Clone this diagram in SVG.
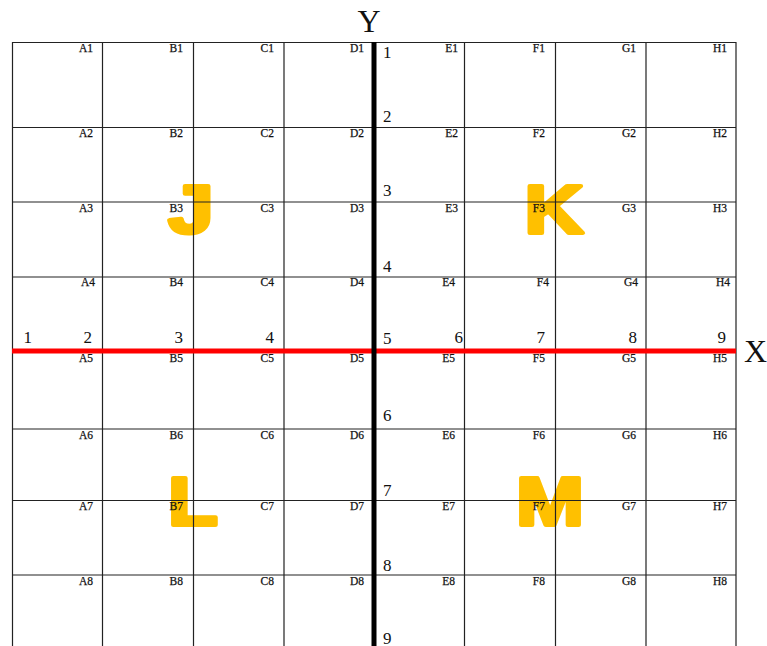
<svg xmlns="http://www.w3.org/2000/svg" width="767" height="646" viewBox="0 0 767 646">
<style>
.big{font-family:"Liberation Sans",Arial,sans-serif;font-weight:bold;font-size:68px;fill:#FFC000;stroke:#FFC000;stroke-width:4;stroke-linejoin:round;text-anchor:middle}
.g{stroke:#222;stroke-width:1.2;fill:none}
.c{font-family:"Liberation Serif","Times New Roman",serif;font-size:11.5px;fill:#111;text-anchor:end;stroke:#111;stroke-width:0.25}
.n{font-family:"Liberation Serif","Times New Roman",serif;font-size:17px;fill:#111}
.e{text-anchor:end}
.ax{font-family:"Liberation Serif","Times New Roman",serif;font-size:32px;fill:#111}
</style>
<rect width="767" height="646" fill="#fff"/>
<g id="letters">
<text class="big" transform="translate(191,233) scale(1.2,1)">J</text>
<text class="big" transform="translate(554,233) scale(1.2,1)">K</text>
<text class="big" transform="translate(193,525) scale(1.2,1)">L</text>
<text class="big" transform="translate(550,525) scale(1.2,1)">M</text>
</g>
<g id="grid" class="g">
<path d="M12.5 42V646M102.5 42V646M193.5 42V646M284 42V646M464.5 42V646M555.5 42V646M646 42V646M736 42V646"/>
<path d="M12 42.5H736M12 127.5H736M12 202H736M12 277H736M12 351H736M12 429H736M12 500.5H736M12 575H736"/>
</g>
<g id="cells">
<g id="row1"><text class="c" x="93" y="52">A1</text><text class="c" x="183" y="52">B1</text><text class="c" x="274" y="52">C1</text><text class="c" x="364" y="52">D1</text><text class="c" x="458" y="52">E1</text><text class="c" x="545" y="52">F1</text><text class="c" x="636" y="52">G1</text><text class="c" x="727" y="52">H1</text></g>
<g id="row2"><text class="c" x="93" y="137">A2</text><text class="c" x="183" y="137">B2</text><text class="c" x="274" y="137">C2</text><text class="c" x="364" y="137">D2</text><text class="c" x="458" y="137">E2</text><text class="c" x="545" y="137">F2</text><text class="c" x="636" y="137">G2</text><text class="c" x="727" y="137">H2</text></g>
<g id="row3"><text class="c" x="93" y="212">A3</text><text class="c" x="183" y="212">B3</text><text class="c" x="274" y="212">C3</text><text class="c" x="364" y="212">D3</text><text class="c" x="458" y="212">E3</text><text class="c" x="545" y="212">F3</text><text class="c" x="636" y="212">G3</text><text class="c" x="727" y="212">H3</text></g>
<g id="row4"><text class="c" x="95" y="286">A4</text><text class="c" x="183" y="286">B4</text><text class="c" x="274" y="286">C4</text><text class="c" x="364" y="286">D4</text><text class="c" x="455" y="286">E4</text><text class="c" x="549" y="286">F4</text><text class="c" x="638" y="286">G4</text><text class="c" x="730" y="286">H4</text></g>
<g id="row5"><text class="c" x="93" y="362">A5</text><text class="c" x="183" y="362">B5</text><text class="c" x="274" y="362">C5</text><text class="c" x="364" y="362">D5</text><text class="c" x="455" y="362">E5</text><text class="c" x="545" y="362">F5</text><text class="c" x="636" y="362">G5</text><text class="c" x="727" y="362">H5</text></g>
<g id="row6"><text class="c" x="93" y="439">A6</text><text class="c" x="183" y="439">B6</text><text class="c" x="274" y="439">C6</text><text class="c" x="364" y="439">D6</text><text class="c" x="455" y="439">E6</text><text class="c" x="545" y="439">F6</text><text class="c" x="636" y="439">G6</text><text class="c" x="727" y="439">H6</text></g>
<g id="row7"><text class="c" x="93" y="510">A7</text><text class="c" x="183" y="510">B7</text><text class="c" x="274" y="510">C7</text><text class="c" x="364" y="510">D7</text><text class="c" x="455" y="510">E7</text><text class="c" x="545" y="510">F7</text><text class="c" x="636" y="510">G7</text><text class="c" x="727" y="510">H7</text></g>
<g id="row8"><text class="c" x="93" y="585">A8</text><text class="c" x="183" y="585">B8</text><text class="c" x="274" y="585">C8</text><text class="c" x="364" y="585">D8</text><text class="c" x="455" y="585">E8</text><text class="c" x="545" y="585">F8</text><text class="c" x="636" y="585">G8</text><text class="c" x="727" y="585">H8</text></g>
</g>
<g id="axes">
<line id="x-axis" x1="12" y1="351" x2="736" y2="351" stroke="#FF0000" stroke-width="5"/>
<line id="y-axis" x1="374" y1="42" x2="374" y2="646" stroke="#000" stroke-width="5"/>
<text class="ax" x="369" y="32" text-anchor="middle">Y</text>
<text class="ax" x="744" y="362">X</text>
</g>
<g id="y-numbers" class="n">
<text x="383" y="58">1</text><text x="383" y="122">2</text><text x="383" y="196">3</text><text x="383" y="272">4</text><text x="383" y="344">5</text><text x="383" y="421">6</text><text x="383" y="496">7</text><text x="383" y="571">8</text><text x="383" y="644">9</text>
</g>
<g id="x-numbers" class="n">
<text class="e" x="32" y="343">1</text><text class="e" x="92" y="343">2</text><text class="e" x="183" y="343">3</text><text class="e" x="274" y="343">4</text><text class="e" x="463" y="343">6</text><text class="e" x="545" y="343">7</text><text class="e" x="637" y="343">8</text><text class="e" x="726" y="343">9</text>
</g>
</svg>
